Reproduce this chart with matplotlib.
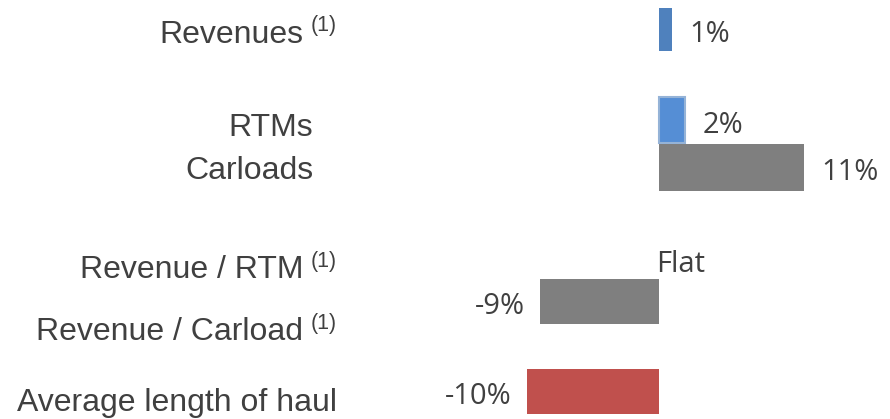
import matplotlib
matplotlib.use("Agg")
import matplotlib.pyplot as plt
from matplotlib.transforms import offset_copy

# ---- data ----
categories = ["Revenues", "RTMs", "Carloads", "Revenue / RTM", "Revenue / Carload", "Average length of haul"]
footnotes = ["(1)", "", "", "(1)", "(1)", ""]
values = [1, 2, 11, 0, -9, -10]
value_labels = ["1%", "2%", "11%", "Flat", "-9%", "-10%"]

# ---- layout / style ----
colors = ["#4F81BD", "#558ED5", "#7F7F7F", "#7F7F7F", "#7F7F7F", "#C0504D"]
edgecolors = ["none", "#95B3D7", "none", "none", "none", "none"]
row_y = [29.5, 120, 167.5, 262, 301.5, 391.5]
bar_h = [43, 46.5, 47, 45, 45, 45]
label_y = [35, 128, 171, 270, 332, 403]
label_right_px = [303, 313, 313, 303, 303, 337]
W, H = 890, 419
zero_px = 659
px_per_pct = 13.2

fig = plt.figure(figsize=(W / 100, H / 100), dpi=100)
ax = fig.add_axes([0, 0, 1, 1])
ax.set_xlim(-zero_px / px_per_pct, (W - zero_px) / px_per_pct)
ax.set_ylim(H, 0)
ax.axis("off")

for v, y, h, c, ec in zip(values, row_y, bar_h, colors, edgecolors):
    if v != 0:
        ax.barh(y, v, height=h, color=c, edgecolor=ec, linewidth=1.5 if ec != "none" else 0)

txtc = "#404040"
vfont = "Open Sans"
vsize = 21
for v, y, lab in zip(values, row_y, value_labels):
    if v > 0:
        t = offset_copy(ax.transData, fig=fig, x=17, y=-5, units="dots")
        ax.text(v, y, lab, transform=t, ha="left", va="center", fontsize=vsize, family=vfont, color=txtc)
    elif v < 0:
        t = offset_copy(ax.transData, fig=fig, x=-15, y=-5, units="dots")
        ax.text(v, y, lab, transform=t, ha="right", va="center", fontsize=vsize, family=vfont, color=txtc)
    else:
        t = offset_copy(ax.transData, fig=fig, x=-3, y=-2, units="dots")
        ax.text(0, y, lab, transform=t, ha="left", va="center", fontsize=vsize, family=vfont, color=txtc)

lfont = "Liberation Sans"
for cat, fn, ly, rx in zip(categories, footnotes, label_y, label_right_px):
    ax.text(rx / px_per_pct - zero_px / px_per_pct, ly, cat, ha="right", va="center",
            fontsize=23, family=lfont, color=txtc)
    if fn:
        ax.text(337 / px_per_pct - zero_px / px_per_pct, ly - 9, fn, ha="right", va="center",
                fontsize=15.5, family=lfont, color=txtc)

fig.savefig("out.png", dpi=100)
